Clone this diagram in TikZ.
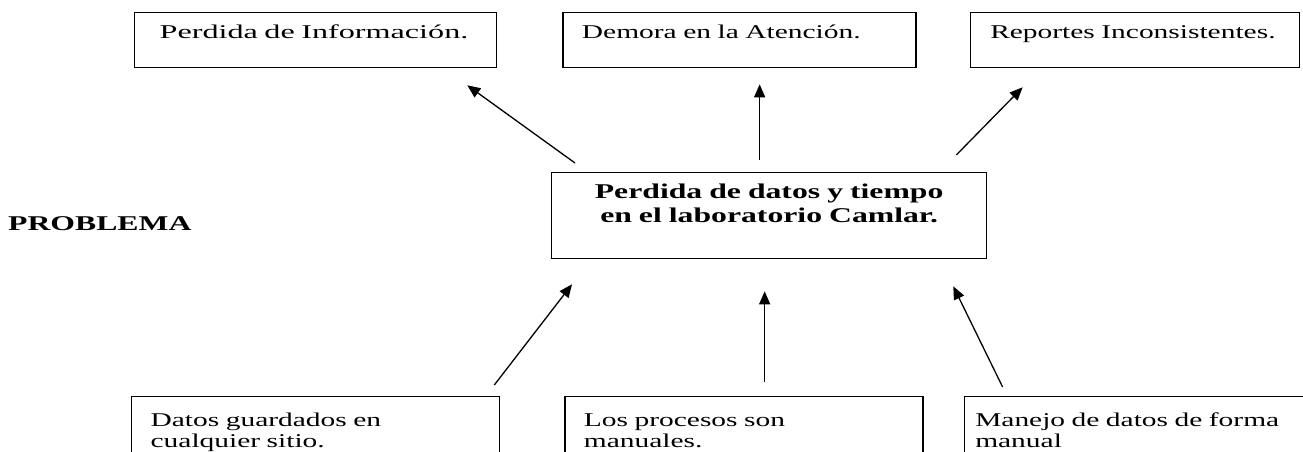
\documentclass[tikz,border=0pt]{standalone}
\usepackage{fontspec}
\setmainfont{Liberation Serif}[FakeStretch=1.51]
\newfontfamily\anchafont{Liberation Serif}[FakeStretch=1.65]
\usetikzlibrary{positioning, arrows.meta}
\tikzset{%
  caja/.style={draw, line width=1.3pt, inner ysep=0pt, align=left, font=\fontsize{19.5}{21}\selectfont},
  efecto/.style={caja, text height=26pt, text depth=29pt},
  causa/.style={caja, text height=30pt, text depth=70pt},
  flecha/.style={-{Triangle[length=13pt,width=11pt]}, line width=1.3pt}
}

\begin{document}
\begin{tikzpicture}[x=1pt, y=-1pt]
        \useasboundingbox (0,0) rectangle (1303,452);
        \node[efecto, anchor=north west, inner xsep=25pt, text width=312pt] (perdida) at (134,12) {\anchafont Perdida de Información.};
        \node[efecto, inner xsep=19pt, text width=315pt] (demora) [right = 65pt of perdida] {Demora en la Atención.};
        \node[efecto, inner xsep=20pt, text width=289pt] (reportes) [right = 53pt of demora] {Reportes Inconsistentes.};
        \node[caja, anchor=north west, align=center, inner xsep=20pt, text width=395pt, text height=26pt, text depth=60pt,
              font=\fontsize{21}{24}\selectfont\bfseries] (problema) at (551,172) {Perdida de datos y tiempo\\en el laboratorio Camlar.};
        \node[anchor=base west, inner sep=0pt, font=\fontsize{21}{24}\selectfont\bfseries] (titulo) at (8,230) {PROBLEMA};
        \node[causa, anchor=north west, inner xsep=19pt, text width=330pt] (guardados) at (131,396) {Datos guardados en\\cualquier sitio.};
        \node[causa, inner xsep=19pt, text width=320pt] (manuales) [right = 64pt of guardados] {Los procesos son\\manuales.};
        \node[causa, inner xsep=11pt, text width=319pt] (manejo) [right = 40pt of manuales] {Manejo de datos de forma\\manual};
        \path[flecha]
        ([shift={(24,-9)}]problema.north west) edge ([shift={(-30,17)}]perdida.south east)
        ([shift={(-9.5,-12)}]problema.north) edge ([shift={(-9.5,16)}]problema.north |- demora.south)
        ([shift={(-31,-17)}]problema.north east) edge ([shift={(53,19)}]reportes.south west)
        ([shift={(-6,-11)}]guardados.north east) edge ([shift={(21,25)}]problema.south west)
        ([shift={(-4.5,-14)}]problema.south |- manuales.north) edge ([shift={(-4.5,32)}]problema.south)
        ([shift={(39,-9)}]manejo.north west) edge ([shift={(-34,27)}]problema.south east);
\end{tikzpicture}
\end{document}
